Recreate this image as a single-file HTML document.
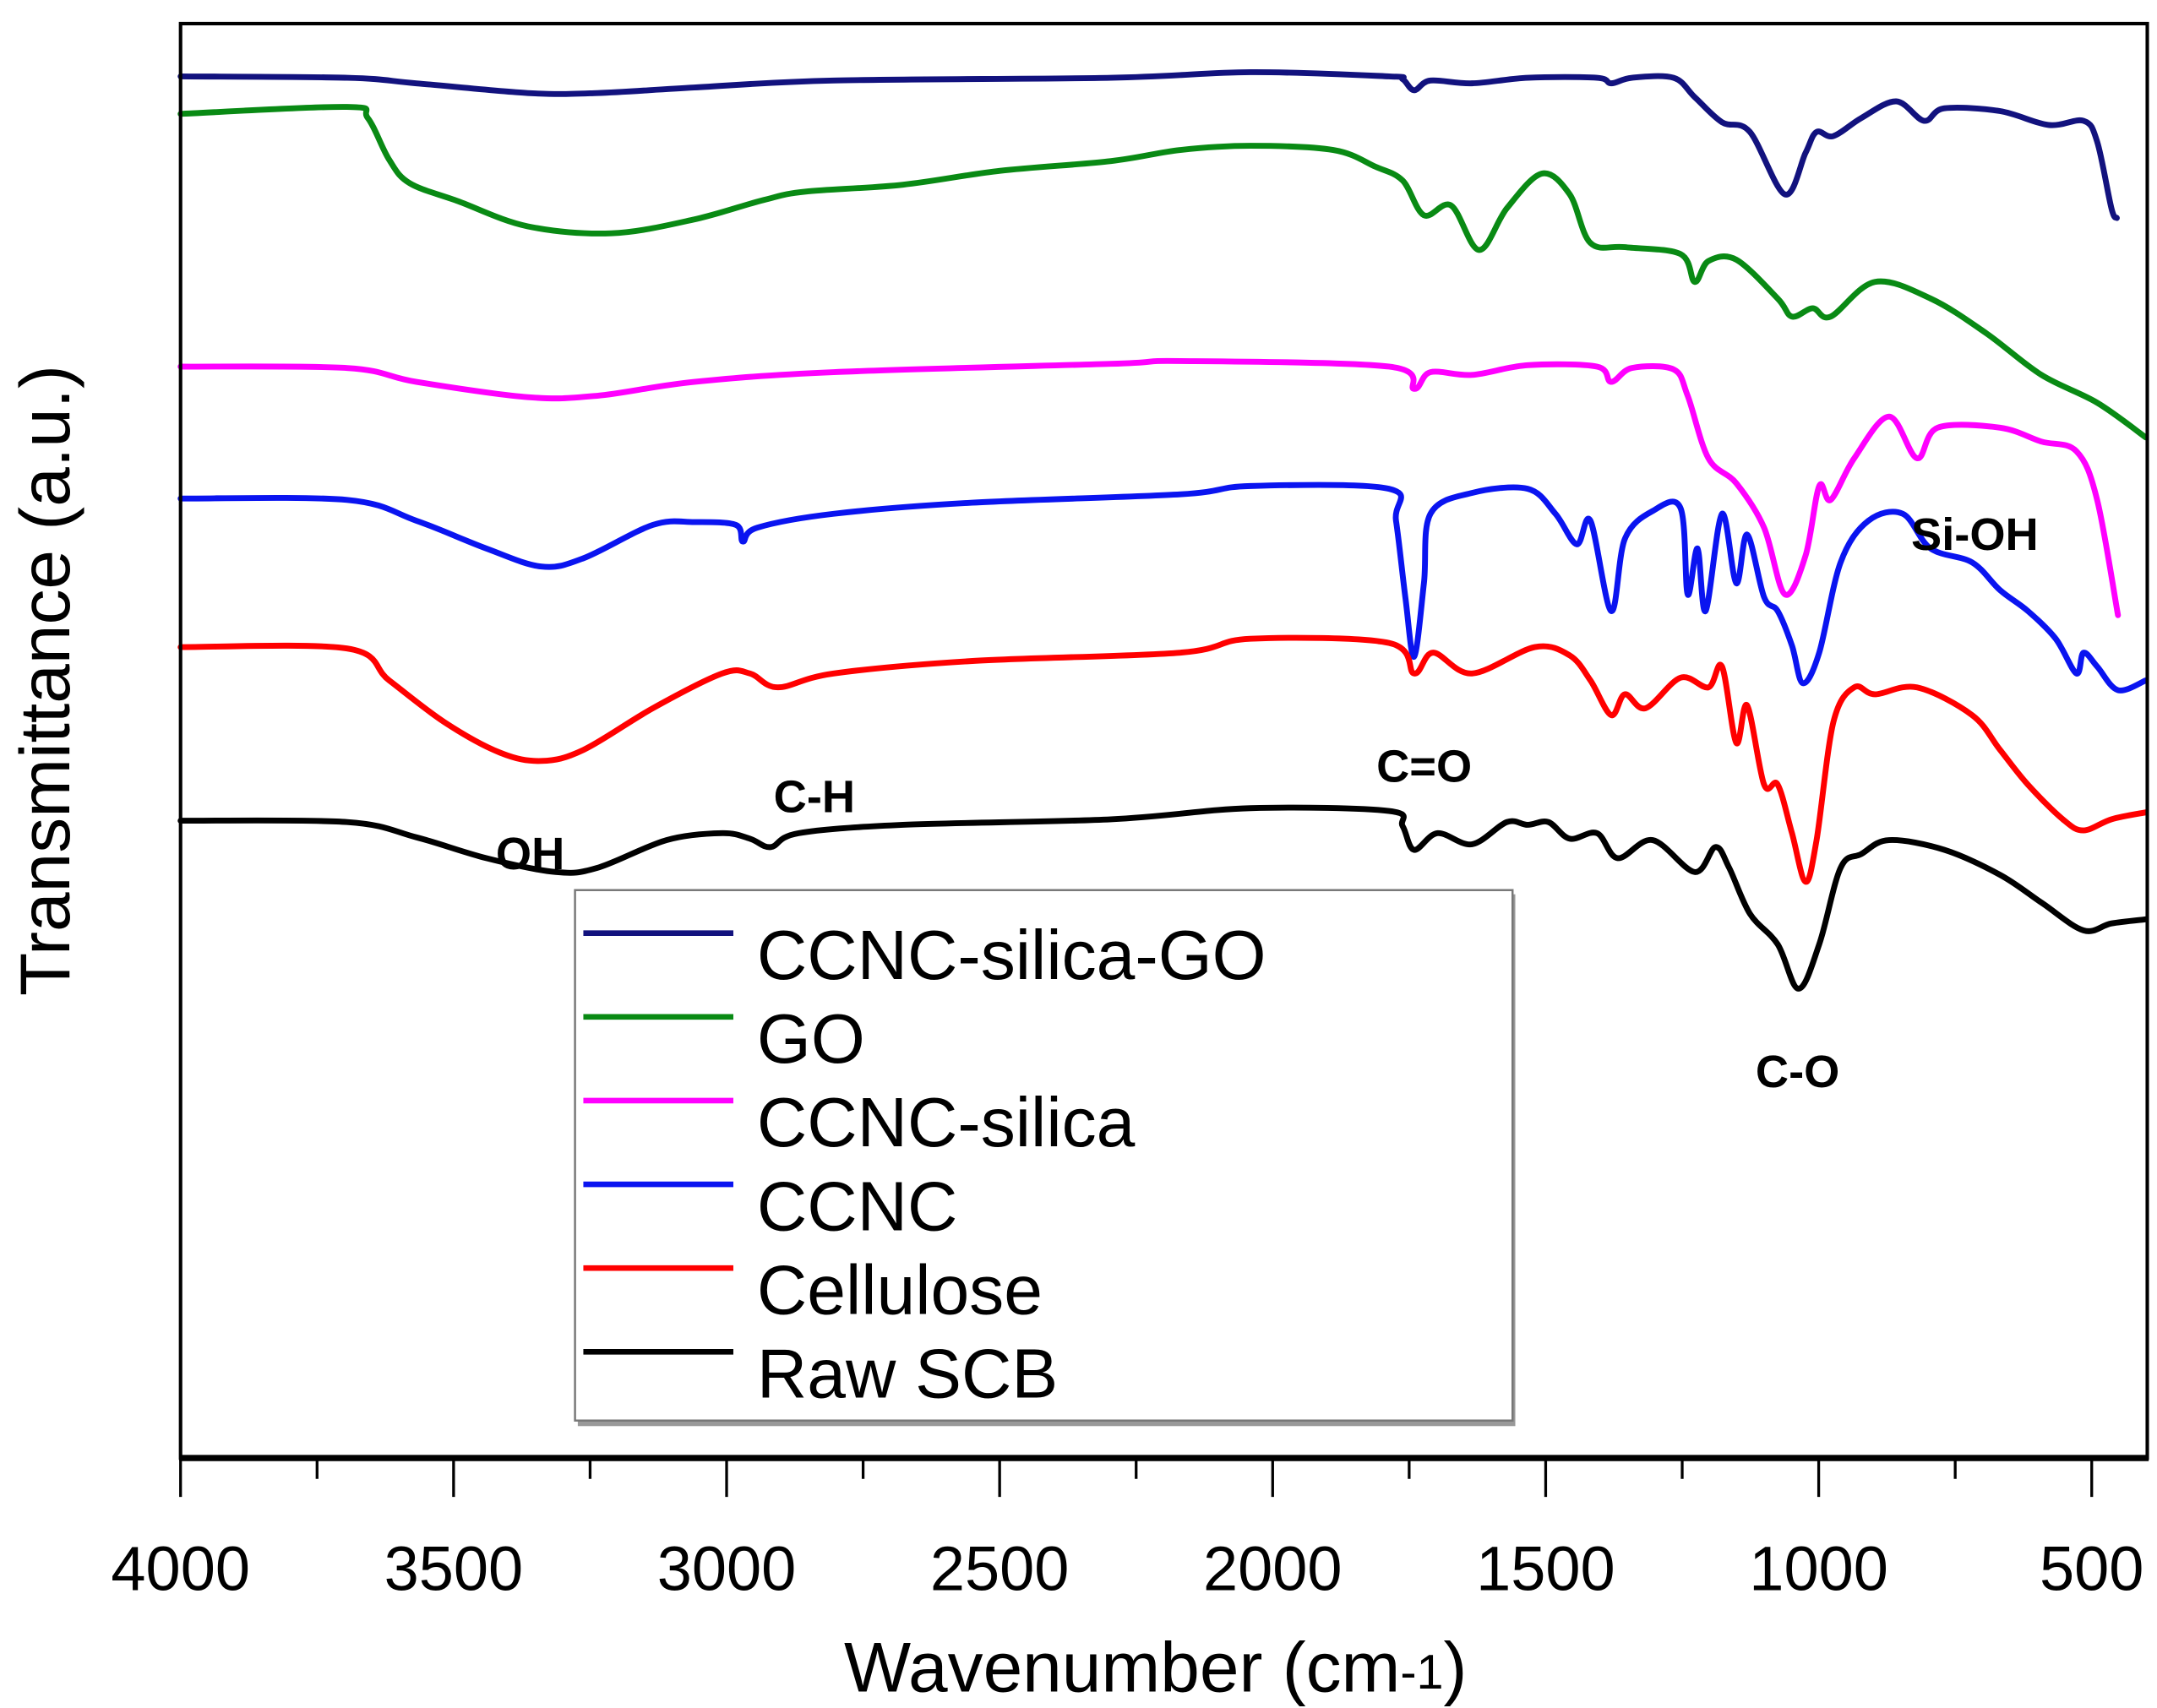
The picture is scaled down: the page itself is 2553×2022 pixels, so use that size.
<!DOCTYPE html>
<html><head><meta charset="utf-8"><style>
html,body{margin:0;padding:0;background:#fff;}
svg{display:block;font-family:"Liberation Sans",Arial,sans-serif;}
</style></head><body>
<svg id="chart" width="2553" height="2022" viewBox="0 0 1553 1230" preserveAspectRatio="none" xmlns="http://www.w3.org/2000/svg">
<rect x="0" y="0" width="1553" height="1230" fill="#fff"/>
<g id="series"></g>
<g id="axes"></g>
<g font-weight="bold" font-size="33" fill="#000">
<text x="357" y="626">OH</text>
<text x="557" y="585">C-H</text>
<text x="991" y="563">C=O</text>
<text x="1264" y="783">C-O</text>
<text x="1376" y="396">Si-OH</text>
</g>
<g id="legend"></g>
<text x="832" y="1218" text-anchor="middle" font-size="51">Wavenumber (cm<tspan font-size="35" dy="-2">-1</tspan><tspan dy="2">)</tspan></text>
<text transform="translate(50,490) rotate(-90)" text-anchor="middle" font-size="51">Transmittance (a.u.)</text>
</svg>
<script>
const xTicks = [4000,3500,3000,2500,2000,1500,1000,500];
const seriesNames = ["CCNC-silica-GO","GO","CCNC-silica","CCNC","Cellulose","Raw SCB"];
const seriesColors = ["#12127e","#098a14","#ff00ff","#0a14f0","#ff0000","#000000"];
const wnNavy = [4000,3695,3568,3364,3237,3059,2804,2296,2041,1787,1762,1741,1711,1635,1533,1406,1380,1342,1266,1227,1177,1126,1062,1024,1004,973,922,858,807,770,668,579,515,490,464,454];
const valNavy = [995,994,990,983,983,987,992,994,998,995,993,985,992,990,994,994,990,994,994,980,962,955,910,940,955,952,965,977,963,972,970,960,963,948,900,893];
const wnGreen = [4000,3695,3657,3618,3580,3491,3364,3211,3059,2932,2855,2677,2499,2296,2169,2041,1889,1812,1762,1723,1673,1622,1571,1507,1456,1418,1355,1253,1227,1202,1151,1075,1049,1011,978,897,795,693,592,490,401];
const valGreen = [968,973,965,935,918,905,887,882,892,906,912,917,927,934,942,945,942,930,920,895,902,870,900,925,910,875,872,867,847,862,863,835,822,828,822,847,835,810,780,760,735];
const wnMagenta = [4000,3695,3568,3364,3237,3059,2804,2296,2169,1787,1741,1711,1635,1533,1406,1380,1342,1266,1240,1202,1151,1100,1062,1024,999,978,935,871,820,782,668,592,528,490,452];
const valMagenta = [786,785,775,764,765,775,782,788,790,786,770,782,780,787,786,775,785,784,765,720,702,670,622,650,700,690,720,750,720,742,742,732,725,690,607];
const wnBlue = [4000,3695,3568,3440,3339,3262,3135,3059,2983,2970,2944,2804,2550,2169,2041,1787,1774,1757,1741,1723,1711,1635,1533,1482,1443,1418,1380,1355,1304,1253,1240,1222,1207,1177,1151,1131,1100,1075,1049,1029,999,960,909,846,795,719,668,617,566,528,515,490,452,401];
const valBlue = [691,690,675,655,642,648,672,674,672,660,670,680,688,694,700,698,675,620,577,630,680,695,698,680,658,675,610,662,682,684,622,655,610,680,630,665,620,610,585,558,580,645,675,680,655,645,625,610,590,565,580,570,553,560];
const wnRed = [4000,3695,3618,3517,3415,3339,3262,3135,3008,2957,2906,2804,2550,2169,2041,1787,1741,1706,1635,1520,1456,1418,1380,1355,1317,1253,1202,1177,1151,1131,1100,1075,1049,1024,1004,973,935,897,820,719,668,617,553,515,464,401];
const valRed = [584,583,560,530,508,502,510,540,565,565,555,565,574,580,590,587,565,580,565,584,578,560,535,550,540,562,555,570,515,542,485,485,450,415,445,530,555,550,555,535,510,485,460,452,460,465];
const wnBlack = [4000,3695,3568,3440,3313,3237,3110,3008,2957,2919,2868,2677,2296,2041,1787,1762,1741,1698,1635,1571,1533,1495,1456,1406,1368,1304,1227,1189,1164,1126,1075,1037,999,960,922,871,770,668,592,515,464,401];
const valBlack = [459,458,447,432,422,425,445,450,446,440,450,456,460,468,466,455,438,450,442,458,456,458,446,450,432,445,422,440,425,392,370,338,370,425,435,445,438,420,400,380,385,388];

const NS = "http://www.w3.org/2000/svg";
const L = 130, R = 1546, T = 17, B = 1050;
function xScale(w){ return 130 + (4000 - w) * (1376/3500); }
function yScale(v){ return B - v * ((B - T) / 1033); }
function mk(tag, attrs, parent){ const e = document.createElementNS(NS, tag); for (const k in attrs) e.setAttribute(k, attrs[k]); parent.appendChild(e); return e; }

function pathFrom(wn, vals){
  const n = Math.min(wn.length, vals.length);
  const p = [];
  for (let i = 0; i < n; i++) p.push([xScale(wn[i]), yScale(vals[i])]);
  let d = "M" + p[0][0].toFixed(1) + "," + p[0][1].toFixed(1);
  for (let i = 0; i < n - 1; i++){
    const p0 = p[Math.max(0, i-1)], p1 = p[i], p2 = p[i+1], p3 = p[Math.min(n-1, i+2)];
    const c1x = p1[0] + (p2[0]-p0[0])/6, c1y = p1[1] + (p2[1]-p0[1])/6;
    const c2x = p2[0] - (p3[0]-p1[0])/6, c2y = p2[1] - (p3[1]-p1[1])/6;
    d += " C" + c1x.toFixed(1)+","+c1y.toFixed(1)+" "+c2x.toFixed(1)+","+c2y.toFixed(1)+" "+p2[0].toFixed(1)+","+p2[1].toFixed(1);
  }
  return d;
}

const sg = document.getElementById("series");
const allWn = [wnNavy, wnGreen, wnMagenta, wnBlue, wnRed, wnBlack];
const allVal = [valNavy, valGreen, valMagenta, valBlue, valRed, valBlack];
for (let s = 0; s < 6; s++){
  const el = mk("path", {d: pathFrom(allWn[s], allVal[s]), fill: "none", stroke: seriesColors[s], "stroke-width": 4.2, "stroke-linejoin": "round", "stroke-linecap": "round"}, sg);
  
  
}

const ag = document.getElementById("axes");
const frame = mk("rect", {x: L, y: T, width: R - L, height: B - T, fill: "none", stroke: "#000", "stroke-width": 2.5}, ag);


const xAxis = mk("line", {x1: L - 1, y1: B, x2: R + 1, y2: B, stroke: "#000", "stroke-width": 4.5}, ag);


for (let w = 4000; w >= 500; w -= 250){
  const major = (w % 500 === 0);
  const t = mk("line", {x1: xScale(w), y1: B, x2: xScale(w), y2: B + (major ? 28 : 15), stroke: "#000", "stroke-width": 2}, ag);
  
  
}
for (let i = 0; i < xTicks.length; i++){
  const lb = mk("text", {x: xScale(xTicks[i]), y: 1145, "text-anchor": "middle", "font-size": 45}, ag);
  lb.textContent = xTicks[i];
  
  
}

const lg = document.getElementById("legend");
const shadow = mk("rect", {x: 416, y: 644, width: 675, height: 383, fill: "#999"}, lg);


const box = mk("rect", {x: 414, y: 641, width: 675, height: 382, fill: "#fff", stroke: "#777", "stroke-width": 1.5}, lg);


for (let s = 0; s < 6; s++){
  const yy = 672 + s * 60.3;
  const ln = mk("line", {x1: 420, y1: yy, x2: 528, y2: yy, stroke: seriesColors[s], "stroke-width": 4}, lg);
  
  
  const tx = mk("text", {x: 545, y: yy + 33, "font-size": 50}, lg);
  tx.textContent = seriesNames[s];
  
  
}
</script>
</body></html>
